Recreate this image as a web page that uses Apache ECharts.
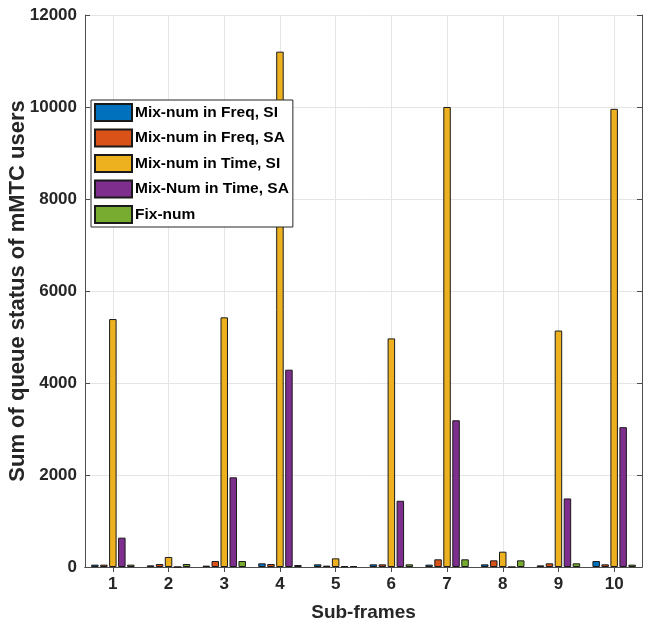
<!DOCTYPE html>
<html>
<head>
<meta charset="utf-8">
<script src="https://cdn.jsdelivr.net/npm/echarts@6/dist/echarts.min.js"></script>
<style>html,body{margin:0;padding:0;background:#fff}#c{width:655px;height:629px}</style>
</head>
<body>
<div id="c"></div>
<script>
var categories = ['1','2','3','4','5','6','7','8','9','10'];
var freqSI = [51, 36, 29, 80, 58, 58, 51, 58, 36, 130];
var freqSA = [51, 65, 130, 65, 29, 58, 167, 145, 80, 58];
var timeSI = [5390, 218, 5427, 11203, 188, 4970, 10000, 333, 5140, 9960];
var timeSA = [638, 0, 1950, 4290, 15, 1440, 3190, 0, 1490, 3040];
var fixNum = [51, 65, 130, 43, 22, 58, 167, 145, 80, 51];
var seriesNames = ['Mix-num in Freq, SI','Mix-num in Freq, SA','Mix-num in Time, SI','Mix-Num in Time, SA','Fix-num'];
var seriesColors = ['#0072BD','#D95319','#EDB120','#7E2F8E','#77AC30'];
var yTicks = [0, 2000, 4000, 6000, 8000, 10000, 12000];

var allData = [freqSI, freqSA, timeSI, timeSA, fixNum];
var FONT = '"Liberation Sans", Arial, Helvetica, sans-serif';
var series = allData.map(function (d, i) {
  return {
    name: seriesNames[i], type: 'bar', data: d,
    barGap: '20%', barCategoryGap: '22%',
    itemStyle: { color: seriesColors[i], borderColor: '#1a1a1a', borderWidth: 1 },
    emphasis: { disabled: true }
  };
});
var chart = echarts.init(document.getElementById('c'));
chart.setOption({
  animation: false,
  backgroundColor: '#fff',
  grid: { left: 85, right: 13, top: 15, bottom: 62, containLabel: false, outerBoundsMode: 'none' },
  legend: {
    orient: 'vertical', left: 91, top: 100,
    icon: 'rect',
    itemWidth: 37, itemHeight: 17, itemGap: 6.5,
    backgroundColor: '#fff', borderColor: '#262626', borderWidth: 1,
    padding: [3, 4, 3, 3],
    textStyle: { fontFamily: FONT, fontWeight: 'bold', fontSize: 15.5, lineHeight: 17, color: '#000', padding: [0,0,0,-2] },
    data: seriesNames
  },
  xAxis: [{
    type: 'category', data: categories, position: 'bottom',
    name: 'Sub-frames', nameLocation: 'middle', nameGap: 36, nameMoveOverlap: false,
    nameTextStyle: { fontFamily: FONT, fontWeight: 'bold', fontSize: 19, color: '#262626' },
    axisLine: { lineStyle: { color: '#4d4d4d', width: 1 } },
    axisTick: { show: true, inside: true, alignWithLabel: true, length: 5, lineStyle: { color: '#4d4d4d' } },
    axisLabel: { fontFamily: FONT, fontWeight: 'bold', fontSize: 17, color: '#262626', margin: 9 },
    splitLine: { show: true, alignWithLabel: true, lineStyle: { color: '#e5e5e5', width: 1 } }
  }, {
    type: 'category', data: categories, position: 'top',
    axisLine: { lineStyle: { color: '#4d4d4d', width: 1 } },
    axisTick: { show: true, inside: true, alignWithLabel: true, length: 5, lineStyle: { color: '#4d4d4d' } },
    axisLabel: { show: false }, splitLine: { show: false }
  }],
  yAxis: [{
    type: 'value', min: 0, max: 12000, interval: 2000, position: 'left',
    name: 'Sum of queue status of mMTC users', nameLocation: 'middle', nameGap: 56, nameMoveOverlap: false,
    nameTextStyle: { fontFamily: FONT, fontWeight: 'bold', fontSize: 22, color: '#262626' },
    axisLine: { show: true, lineStyle: { color: '#4d4d4d', width: 1 } },
    axisTick: { show: true, inside: true, length: 5, lineStyle: { color: '#4d4d4d' } },
    axisLabel: { fontFamily: FONT, fontWeight: 'bold', fontSize: 17, color: '#262626', margin: 8,
      formatter: function (v) { return yTicks.indexOf(v) >= 0 ? String(v) : ''; } },
    splitLine: { show: true, lineStyle: { color: '#e5e5e5', width: 1 } }
  }, {
    type: 'value', min: 0, max: 12000, interval: 2000, position: 'right',
    axisLine: { show: true, lineStyle: { color: '#4d4d4d', width: 1 } },
    axisTick: { show: true, inside: true, length: 5, lineStyle: { color: '#4d4d4d' } },
    axisLabel: { show: false }, splitLine: { show: false }
  }],
  series: series
});
</script>
</body>
</html>
